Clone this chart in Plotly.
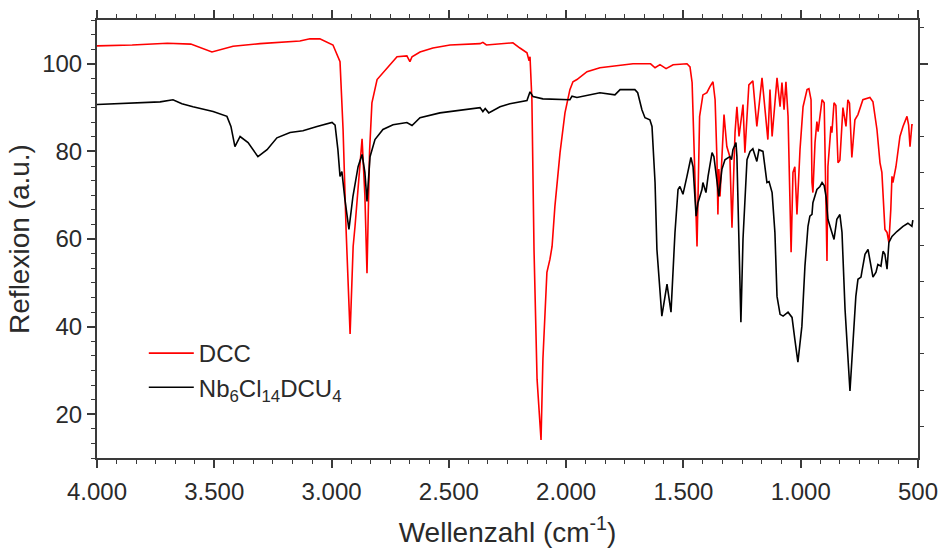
import plotly.graph_objects as go

# ---- data ----
dcc_wn = [4000, 3850, 3700, 3600, 3510, 3420, 3305, 3135, 3092, 3050, 2994, 2964, 2951, 2938, 2921,
          2908, 2900, 2870, 2858, 2849, 2838, 2828, 2806, 2764, 2721, 2679, 2666, 2657, 2623, 2568,
          2495, 2367, 2355, 2340, 2252, 2227, 2197, 2167, 2158, 2154, 2146, 2137, 2124, 2112, 2107,
          2099, 2082, 2069, 2060, 2048, 2026, 2005, 1984, 1971, 1954, 1911, 1856, 1715, 1640, 1621,
          1600, 1574, 1544, 1485, 1472, 1463, 1459, 1451, 1442, 1438, 1431, 1417, 1400, 1387, 1374,
          1365, 1357, 1353, 1349, 1344, 1327, 1315, 1302, 1293, 1280, 1272, 1263, 1246, 1238, 1221,
          1204, 1187, 1165, 1140, 1131, 1122, 1101, 1088, 1080, 1071, 1063, 1054, 1041, 1033, 1025,
          1016, 1003, 990, 973, 965, 956, 952, 948, 939, 931, 926, 909, 900, 888, 884,
          871, 867, 858, 850, 841, 833, 820, 814, 807, 799, 792, 782, 769, 756, 735,
          705, 692, 675, 662, 654, 641, 632, 624, 616, 611, 607, 594, 577, 564, 547,
          540, 534, 526, 522]
dcc_val = [104.1, 104.3, 104.7, 104.5, 102.7, 104.0, 104.6, 105.2, 105.7, 105.7, 104.3, 100.5, 85.0, 62.0, 38.3,
           58.3, 62.9, 82.9, 70.0, 52.2, 80.0, 91.1, 96.4, 99.1, 101.6, 101.8, 100.5, 101.6, 102.7, 103.6,
           104.3, 104.6, 104.9, 104.3, 104.8, 104.8, 103.6, 102.5, 100.7, 101.6, 91.8, 57.6, 28.0, 17.0, 14.1,
           32.6, 52.4, 55.4, 58.3, 67.4, 79.7, 88.8, 94.1, 95.9, 96.4, 98.2, 99.1, 100.0, 100.0, 99.1,
           99.8, 98.9, 99.8, 100.0, 99.3, 95.7, 88.0, 76.5, 58.3, 69.0, 88.0, 92.9, 93.4, 94.8, 95.9,
           91.8, 78.1, 65.6, 76.0, 69.7, 88.4, 81.1, 78.8, 62.6, 84.3, 90.2, 83.4, 90.7, 79.7, 95.2,
           96.1, 85.7, 96.8, 82.7, 94.1, 83.4, 96.8, 90.2, 95.7, 89.5, 95.9, 88.0, 57.0, 75.2, 76.5,
           65.6, 80.4, 90.2, 94.1, 94.3, 91.8, 72.9, 70.6, 82.0, 86.8, 84.5, 91.8, 91.1, 55.0, 76.5,
           85.7, 84.3, 91.1, 90.5, 77.4, 78.0, 90.0, 88.0, 85.7, 91.8, 91.0, 78.6, 87.2, 88.4, 91.8,
           92.3, 91.3, 85.0, 77.4, 75.2, 62.2, 61.5, 59.2, 66.7, 74.3, 72.9, 76.5, 83.4, 85.7, 88.0,
           86.0, 81.1, 86.1, 86.1]

nb_wn = [4000, 3847, 3731, 3676, 3638, 3591, 3505, 3446, 3429, 3412, 3390, 3356, 3314, 3275, 3233,
         3177, 3122, 3062, 3049, 2998, 2985, 2973, 2964, 2956, 2943, 2926, 2909, 2887, 2870, 2858,
         2849, 2836, 2815, 2781, 2738, 2679, 2657, 2623, 2538, 2423, 2367, 2355, 2345, 2330, 2282,
         2240, 2167, 2154, 2141, 2099, 1984, 1975, 1954, 1856, 1792, 1770, 1715, 1707, 1695, 1677,
         1664, 1643, 1634, 1621, 1613, 1592, 1570, 1553, 1536, 1523, 1515, 1502, 1485, 1468, 1459,
         1446, 1438, 1421, 1417, 1404, 1395, 1378, 1370, 1361, 1357, 1349, 1336, 1323, 1302, 1295,
         1289, 1276, 1272, 1264, 1255, 1246, 1229, 1216, 1204, 1187, 1178, 1161, 1152, 1144, 1135,
         1122, 1110, 1101, 1088, 1075, 1054, 1037, 1025, 1012, 995, 982, 969, 961, 952, 948,
         931, 918, 909, 900, 892, 884, 867, 858, 846, 833, 824, 811, 790, 777, 765,
         756, 743, 739, 726, 713, 705, 692, 679, 671, 658, 649, 641, 632, 624, 611,
         590, 564, 543, 526, 522]
nb_val = [90.7, 91.1, 91.3, 91.8, 90.9, 90.2, 89.1, 88.0, 85.7, 81.1, 83.4, 82.0, 78.8, 80.4, 83.1,
          84.3, 84.7, 85.7, 85.9, 86.6, 86.0, 80.4, 74.3, 75.4, 69.0, 62.2, 69.7, 76.5, 79.3, 75.2,
          68.6, 78.8, 82.7, 85.0, 86.1, 86.6, 85.9, 87.7, 88.8, 89.5, 90.0, 89.1, 89.8, 88.8, 90.2,
          90.9, 91.6, 93.6, 92.5, 92.0, 91.8, 92.6, 92.3, 93.4, 92.9, 94.1, 94.1, 94.1, 93.4, 89.5,
          87.7, 87.2, 85.7, 72.9, 57.6, 42.4, 49.7, 43.3, 61.5, 71.3, 72.0, 70.2, 74.3, 78.6, 76.5,
          65.2, 68.3, 71.3, 72.9, 70.6, 74.3, 79.7, 78.8, 74.3, 73.6, 69.7, 75.9, 78.1, 78.8, 78.1,
          80.4, 82.0, 78.8, 60.0, 41.0, 60.0, 78.1, 80.0, 80.6, 77.7, 80.4, 80.0, 75.9, 72.9, 73.1,
          70.6, 61.5, 46.9, 42.8, 42.4, 43.3, 42.1, 37.1, 31.9, 40.1, 53.8, 62.9, 65.2, 65.6, 68.3,
          71.3, 72.0, 72.9, 72.2, 69.7, 64.5, 61.5, 59.9, 64.5, 65.6, 61.5, 43.9, 25.3, 37.1, 46.9,
          50.8, 51.3, 52.6, 56.5, 57.6, 55.4, 51.3, 52.4, 54.2, 53.8, 57.2, 56.5, 53.1, 59.2, 60.6,
          61.7, 62.9, 63.6, 62.9, 64.3]

x_tickvals = [4000, 3500, 3000, 2500, 2000, 1500, 1000, 500]
x_ticktext = ["4.000", "3.500", "3.000", "2.500", "2.000", "1.500", "1.000", "500"]
y_tickvals = [20, 40, 60, 80, 100]

AX = "#3a3a3a"
TXT = "#2a2a2a"
FONT = "Liberation Sans, Arial, sans-serif"
TICK_SIZE = 24
TITLE_SIZE = 28

x_minor = [500 + i * 500 / 6 for i in range(43)]
y_minor = [10 + i * 20 / 6 for i in range(31)]
r_minor = [100 + k * 8.28 for k in range(-10, 2)]

fig = go.Figure()
fig.add_trace(go.Scatter(x=dcc_wn, y=dcc_val, mode="lines", name="DCC",
                         line=dict(color="#ff0000", width=1.6)))
fig.add_trace(go.Scatter(x=nb_wn, y=nb_val, mode="lines",
                         name="Nb<sub>6</sub>Cl<sub>14</sub>DCU<sub>4</sub>",
                         line=dict(color="#000000", width=1.6)))
# invisible trace to activate the mirror axes
fig.add_trace(go.Scatter(x=[4000], y=[50], xaxis="x2", yaxis="y2", mode="markers",
                         marker=dict(opacity=0), showlegend=False, hoverinfo="skip"))

fig.update_layout(
    width=940, height=548,
    margin=dict(l=97, r=22, t=20, b=90),
    paper_bgcolor="white", plot_bgcolor="white",
    font=dict(family=FONT, color=TXT, size=TICK_SIZE),
    showlegend=True,
    legend=dict(x=0.057, y=0.29, xanchor="left", yanchor="top",
                bgcolor="rgba(0,0,0,0)", font=dict(size=24, family=FONT, color=TXT),
                itemwidth=45, tracegroupgap=0),
    xaxis=dict(range=[4000, 500], tickmode="array", tickvals=x_tickvals, ticktext=x_ticktext,
               automargin=False, ticklabelstandoff=3,
               ticks="outside", ticklen=8, tickwidth=1.5, tickcolor=AX,
               showline=True, linecolor=AX, linewidth=2, showgrid=False, zeroline=False,
               tickfont=dict(size=TICK_SIZE, family=FONT, color=TXT),
               minor=dict(tickmode="array", tickvals=x_minor, ticks="outside", ticklen=4,
                          tickwidth=1.2, tickcolor=AX, showgrid=False),
               title=dict(text="Wellenzahl (cm<sup>-1</sup>)", font=dict(size=TITLE_SIZE, family=FONT, color=TXT),
                          standoff=22)),
    xaxis2=dict(range=[4000, 500], overlaying="x", side="top", tickmode="array",
                tickvals=x_tickvals, showticklabels=False, automargin=False,
                ticks="outside", ticklen=8, tickwidth=1.5, tickcolor=AX,
                showline=True, linecolor=AX, linewidth=2, showgrid=False, zeroline=False,
                minor=dict(tickmode="array", tickvals=x_minor, ticks="outside", ticklen=4,
                           tickwidth=1.2, tickcolor=AX, showgrid=False)),
    yaxis=dict(range=[10, 110], tickmode="array", tickvals=y_tickvals, automargin=False,
               ticks="outside", ticklen=8, tickwidth=1.5, tickcolor=AX,
               showline=True, linecolor=AX, linewidth=2, showgrid=False, zeroline=False,
               tickfont=dict(size=TICK_SIZE, family=FONT, color=TXT),
               minor=dict(tickmode="array", tickvals=y_minor, ticks="outside", ticklen=4,
                          tickwidth=1.2, tickcolor=AX, showgrid=False),
               title=dict(text="Reflexion (a.u.)", font=dict(size=TITLE_SIZE, family=FONT, color=TXT),
                          standoff=4)),
    yaxis2=dict(range=[10, 110], overlaying="y", side="right", tickmode="array",
                tickvals=[100], showticklabels=False, automargin=False,
                ticks="outside", ticklen=8, tickwidth=1.5, tickcolor=AX,
                showline=True, linecolor=AX, linewidth=2, showgrid=False, zeroline=False,
                minor=dict(tickmode="array", tickvals=r_minor, ticks="outside", ticklen=4,
                           tickwidth=1.2, tickcolor=AX, showgrid=False)),
)

fig.write_html("out.html", config={"displayModeBar": False},
               post_script="document.body.style.margin='0px';document.body.style.overflow='hidden';")
